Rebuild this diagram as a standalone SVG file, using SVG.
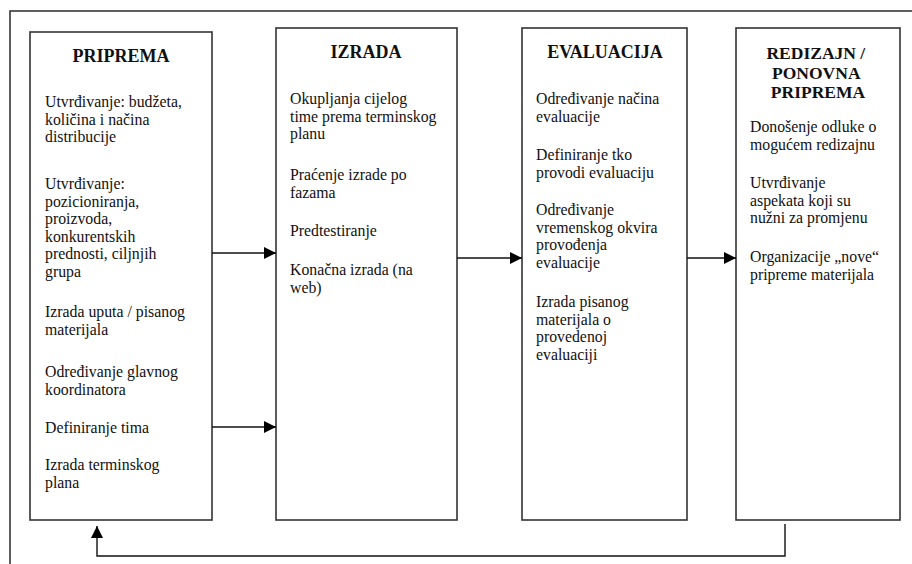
<svg xmlns="http://www.w3.org/2000/svg" width="912" height="564" viewBox="0 0 912 564">
  <defs>
    <style>
      .frame { fill: none; stroke: #2a2a2a; stroke-width: 1.5; }
      .box { fill: #ffffff; stroke: #333333; stroke-width: 1.6; }
      .title { font-family: "Liberation Serif", "Times New Roman", serif; font-size: 18px; font-weight: bold; fill: #111111; text-anchor: middle; }
      .title-sm { font-size: 17.5px; }
      .body { font-family: "Liberation Serif", "Times New Roman", serif; font-size: 15.8px; fill: #111111; }
      .conn { fill: none; stroke: #111111; stroke-width: 1.4; }
    </style>
    <marker id="arrow" viewBox="0 0 12 12" refX="12" refY="6" markerWidth="12" markerHeight="12" markerUnits="userSpaceOnUse" orient="auto">
      <path d="M0,0 L12,6 L0,12 Z" fill="#000000"/>
    </marker>
  </defs>

  <rect width="912" height="564" fill="#ffffff"/>

  <!-- open outer frame: top and left edges only -->
  <path class="frame" d="M10,564 L10,11 L912,11"/>

  <!-- phase 1 -->
  <g id="priprema">
    <rect class="box" x="30" y="32" width="182" height="488"/>
    <text class="title" x="121" y="62">PRIPREMA</text>
    <text class="body">
      <tspan x="45" y="107">Utvrđivanje: budžeta,</tspan>
      <tspan x="45" y="124.5">količina i načina</tspan>
      <tspan x="45" y="142">distribucije</tspan>
      <tspan x="45" y="189">Utvrđivanje:</tspan>
      <tspan x="45" y="206.5">pozicioniranja,</tspan>
      <tspan x="45" y="224">proizvoda,</tspan>
      <tspan x="45" y="241.5">konkurentskih</tspan>
      <tspan x="45" y="259">prednosti, ciljnjih</tspan>
      <tspan x="45" y="276.5">grupa</tspan>
      <tspan x="45" y="317">Izrada uputa / pisanog</tspan>
      <tspan x="45" y="334.5">materijala</tspan>
      <tspan x="45" y="377">Određivanje glavnog</tspan>
      <tspan x="45" y="394.5">koordinatora</tspan>
      <tspan x="45" y="433">Definiranje tima</tspan>
      <tspan x="45" y="470">Izrada terminskog</tspan>
      <tspan x="45" y="487.5">plana</tspan>
    </text>
  </g>

  <!-- phase 2 -->
  <g id="izrada">
    <rect class="box" x="276" y="28" width="181" height="492"/>
    <text class="title" x="366" y="58">IZRADA</text>
    <text class="body">
      <tspan x="290" y="104">Okupljanja cijelog</tspan>
      <tspan x="290" y="121.5">time prema terminskog</tspan>
      <tspan x="290" y="139">planu</tspan>
      <tspan x="290" y="180">Praćenje izrade po</tspan>
      <tspan x="290" y="197.5">fazama</tspan>
      <tspan x="290" y="236">Predtestiranje</tspan>
      <tspan x="290" y="275">Konačna izrada (na</tspan>
      <tspan x="290" y="292.5">web)</tspan>
    </text>
  </g>

  <!-- phase 3 -->
  <g id="evaluacija">
    <rect class="box" x="522" y="28" width="165" height="492"/>
    <text class="title" x="605" y="58">EVALUACIJA</text>
    <text class="body">
      <tspan x="536" y="104">Određivanje načina</tspan>
      <tspan x="536" y="121.5">evaluacije</tspan>
      <tspan x="536" y="160">Definiranje tko</tspan>
      <tspan x="536" y="177.5">provodi evaluaciju</tspan>
      <tspan x="536" y="215">Određivanje</tspan>
      <tspan x="536" y="232.5">vremenskog okvira</tspan>
      <tspan x="536" y="250">provođenja</tspan>
      <tspan x="536" y="267.5">evaluacije</tspan>
      <tspan x="536" y="307">Izrada pisanog</tspan>
      <tspan x="536" y="324.5">materijala o</tspan>
      <tspan x="536" y="342">provedenoj</tspan>
      <tspan x="536" y="359.5">evaluaciji</tspan>
    </text>
  </g>

  <!-- phase 4 -->
  <g id="redizajn">
    <rect class="box" x="736" y="28" width="164" height="492"/>
    <text class="title title-sm">
      <tspan x="818" y="59">REDIZAJN /</tspan>
      <tspan x="818" y="78.5">PONOVNA</tspan>
      <tspan x="818" y="98">PRIPREMA</tspan>
    </text>
    <text class="body">
      <tspan x="750" y="132">Donošenje odluke o</tspan>
      <tspan x="750" y="149.5">mogućem redizajnu</tspan>
      <tspan x="750" y="188">Utvrđivanje</tspan>
      <tspan x="750" y="205.5">aspekata koji su</tspan>
      <tspan x="750" y="223">nužni za promjenu</tspan>
      <tspan x="750" y="262">Organizacije „nove“</tspan>
      <tspan x="750" y="279.5">pripreme materijala</tspan>
    </text>
  </g>

  <!-- connectors -->
  <g id="connectors">
    <line class="conn" x1="212" y1="253" x2="276" y2="253" marker-end="url(#arrow)"/>
    <line class="conn" x1="212" y1="427" x2="276" y2="427" marker-end="url(#arrow)"/>
    <line class="conn" x1="457" y1="258" x2="522" y2="258" marker-end="url(#arrow)"/>
    <line class="conn" x1="687" y1="258" x2="736" y2="258" marker-end="url(#arrow)"/>
    <path class="conn" d="M785,524 L785,556 L97,556 L97,526" marker-end="url(#arrow)"/>
  </g>
</svg>
